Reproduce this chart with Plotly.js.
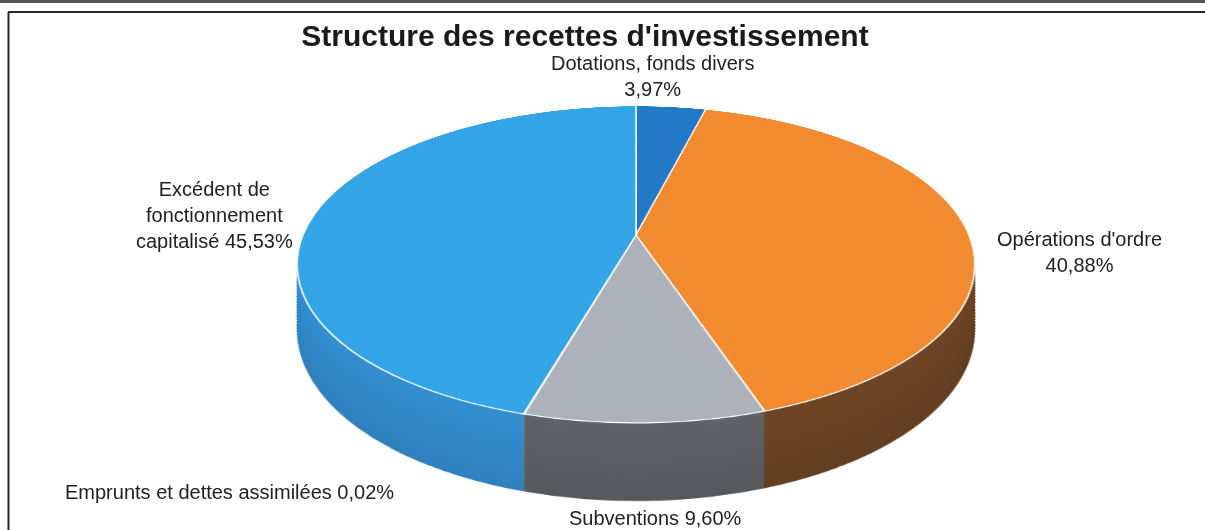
<!DOCTYPE html>
<html><head><meta charset="utf-8">
<script src="https://cdn.plot.ly/plotly-3.0.1.min.js"></script>
<style>
html,body{margin:0;padding:0;background:#fff;}
#wrap{position:relative;width:1205px;height:530px;overflow:hidden;background:#fff;}
#pie{position:absolute;left:186px;top:-135px;width:900px;height:900px;transform-origin:450px 370px;transform:perspective(1590px) rotateX(62.65deg);}
#txt{position:absolute;left:0;top:0;width:1205px;height:530px;}
</style></head><body>
<div id="wrap"><div id="pie"></div><div id="txt"></div></div>
<script>
// ---- data ----
const categories = ["Dotations, fonds divers", "Opérations d'ordre", "Subventions", "Emprunts et dettes assimilées", "Excédent de fonctionnement capitalisé"];
const shares = [3.97, 40.88, 9.60, 0.02, 45.53];
const labelPrefix = ["Dotations, fonds divers<br>", "Opérations d'ordre<br>", "Subventions ", "Emprunts et dettes assimilées ", "Excédent de<br>fonctionnement<br>capitalisé "];
const chartTitle = "Structure des recettes d'investissement";

// ---- styles ----
const topColors  = ["#2479c6", "#f28a2f", "#adb1b9", "#e8c020", "#33a4e6"];
const sideColors = [[27,95,158], [110,70,38], [96,99,104], [160,128,16], [52,143,210]];
const labelPos = [[652, 61], [1079, 252], [655, 518], [230, 492], [214, 215]];

const W = 900, H = 900, CX = 450, CY = 370, R = 333, D = 128.4, STEPS = 64;
function dom(cx, cy, r) {
  return {x: [(cx - r) / W, (cx + r) / W], y: [1 - (cy + r) / H, 1 - (cy - r) / H]};
}
function shade(c, f) {
  return 'rgb(' + c.map(v => Math.round(v * f)).join(',') + ')';
}
const traces = [];
for (let i = STEPS; i >= 1; i--) {
  const t = i / STEPS;
  const d = D * t;
  const r = R - 0.186 * d;
  traces.push({
    type: 'pie', values: shares, labels: categories, sort: false,
    direction: 'clockwise', rotation: 0, textinfo: 'none', hoverinfo: 'skip',
    showlegend: false, domain: dom(CX, CY + d, r),
    marker: {colors: sideColors.map(c => shade(c, 1 - 0.1 * t)), line: {width: 0}}
  });
}
traces.push({
  type: 'pie', values: shares, labels: categories, sort: false,
  direction: 'clockwise', rotation: 0, textinfo: 'none', hoverinfo: 'skip',
  showlegend: false, domain: dom(CX, CY, R),
  marker: {colors: topColors, line: {color: '#ffffff', width: 1.5}}
});
Plotly.newPlot('pie', traces, {
  width: W, height: H, margin: {l: 0, r: 0, t: 0, b: 0},
  paper_bgcolor: 'rgba(0,0,0,0)', showlegend: false
}, {staticPlot: true, displayModeBar: false});

function fmt(v) { return v.toFixed(2).replace('.', ',') + '%'; }
const FW = 1205, FH = 530;
const annotations = categories.map((c, i) => ({
  xref: 'paper', yref: 'paper', x: labelPos[i][0] / FW, y: 1 - labelPos[i][1] / FH,
  xanchor: 'center', yanchor: i === 0 ? 'top' : 'middle', align: 'center', showarrow: false,
  text: labelPrefix[i] + fmt(shares[i]),
  font: {family: 'Liberation Sans, Arial, sans-serif', size: 20, color: '#222222'}
}));
// Dotations label: anchor its top just below the title
annotations[0].y = 1 - 50 / FH;
const shapes = [
  {type: 'rect', xref: 'paper', yref: 'paper', x0: 0, x1: 1, y0: 1 - 3 / FH, y1: 1, fillcolor: '#555555', line: {width: 0}},
  {type: 'line', xref: 'paper', yref: 'paper', x0: 8 / FW, x1: 1, y0: 1 - 12 / FH, y1: 1 - 12 / FH, line: {color: '#2a2a2a', width: 2}},
  {type: 'line', xref: 'paper', yref: 'paper', x0: 8.5 / FW, x1: 8.5 / FW, y0: 0, y1: 1 - 12 / FH, line: {color: '#2a2a2a', width: 2}}
];
Plotly.newPlot('txt', [], {
  width: FW, height: FH, margin: {l: 0, r: 0, t: 0, b: 0},
  paper_bgcolor: 'rgba(0,0,0,0)', plot_bgcolor: 'rgba(0,0,0,0)',
  xaxis: {visible: false}, yaxis: {visible: false},
  title: {text: '<b>' + chartTitle + '</b>', x: 585 / FW, xanchor: 'center', y: 1 - 35 / FH, yanchor: 'middle',
          font: {family: 'Liberation Sans, Arial, sans-serif', size: 30, color: '#1a1a1a'}},
  annotations: annotations, shapes: shapes
}, {staticPlot: true, displayModeBar: false});
</script>
</body></html>
